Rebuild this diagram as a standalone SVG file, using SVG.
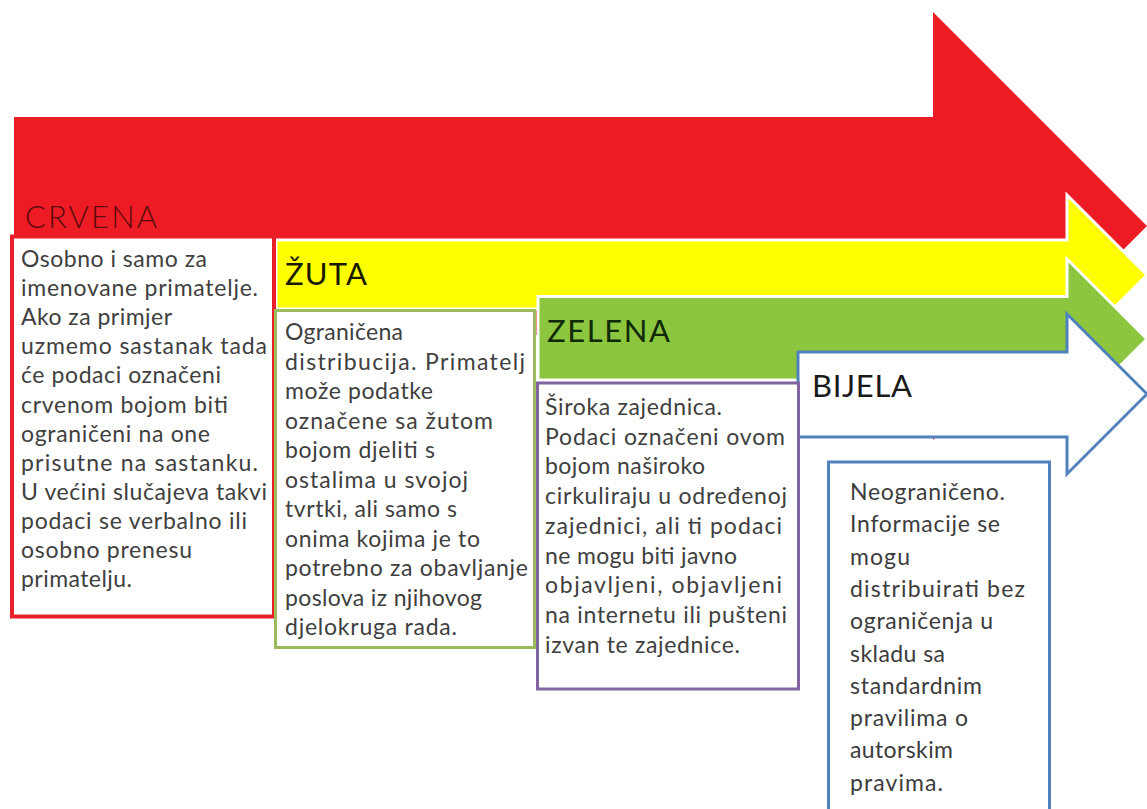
<svg xmlns="http://www.w3.org/2000/svg" width="1147" height="809" viewBox="0 0 1147 809">
<style>
.t{font-family:Lato,"Liberation Sans",sans-serif;font-size:23px;fill:#404040}
.tb{font-family:Lato,"Liberation Sans",sans-serif;font-size:23px;fill:#3c3c3c}
.lbl{font-family:Lato,"Liberation Sans",sans-serif;font-size:31px}
.box{fill:#ffffff;stroke-width:3}
</style>
<rect width="1147" height="809" fill="#ffffff"/>
<g id="crvena">
<polygon points="14,117 933,117 933,12 1147,226 933,440 933,335 14,335" fill="#ed1c24"/>
<text class="lbl" x="25" y="228" textLength="132" style="fill:#5a0a0a;font-weight:300">CRVENA</text>
</g>
<g id="zuta">
<polygon points="276,240 1067,240 1067,195 1147,275 1067,355 1067,309 276,309" fill="#ffff00" stroke="#ffffff" stroke-width="3"/>
<text class="lbl" x="285" y="285" textLength="82" style="fill:#1a1a00">ŽUTA</text>
</g>
<g id="zelena">
<polygon points="538,296.5 1067,296.5 1067,259 1147,339 1067,419 1067,380 538,380" fill="#8cc63f" stroke="#ffffff" stroke-width="3"/>
<text class="lbl" x="547" y="342" textLength="123" style="fill:#0f2a08">ZELENA</text>
</g>
<g id="bijela">
<polygon points="798,352 1067,352 1067,314 1147,394 1067,474 1067,437 798,437" fill="#ffffff" stroke="#4f81bd" stroke-width="3"/>
<text class="lbl" x="812" y="397" textLength="100" style="fill:#1a1a1a">BIJELA</text>
</g>
<g id="crvena-opis">
<rect class="box" x="12" y="236.5" width="262" height="380" stroke="#e8202a" style="stroke-width:4"/>
<text class="t" x="21" y="267" textLength="186">Osobno i samo za</text>
<text class="t" x="21" y="296" textLength="237">imenovane primatelje.</text>
<text class="t" x="21" y="325" textLength="151">Ako za primjer</text>
<text class="t" x="21" y="354" textLength="246">uzmemo sastanak tada</text>
<text class="t" x="21" y="383" textLength="200">će podaci označeni</text>
<text class="t" x="21" y="413" textLength="207">crvenom bojom biti</text>
<text class="t" x="21" y="442" textLength="189">ograničeni na one</text>
<text class="t" x="21" y="471" textLength="237">prisutne na sastanku.</text>
<text class="t" x="21" y="500" textLength="246">U većini slučajeva takvi</text>
<text class="t" x="21" y="529" textLength="226">podaci se verbalno ili</text>
<text class="t" x="21" y="558" textLength="171">osobno prenesu</text>
<text class="t" x="21" y="587" textLength="111">primatelju.</text>
</g>
<g id="zuta-opis">
<rect class="box" x="275.5" y="310.5" width="259" height="337" stroke="#9bbb59"/>
<text class="t" x="285" y="340" textLength="118">Ograničena</text>
<text class="t" x="285" y="369.5" textLength="240">distribucija. Primatelj</text>
<text class="t" x="285" y="399" textLength="148">može podatke</text>
<text class="t" x="285" y="428.5" textLength="208">označene sa žutom</text>
<text class="t" x="285" y="458" textLength="150">bojom djeliti s</text>
<text class="t" x="285" y="487.5" textLength="183">ostalima u svojoj</text>
<text class="t" x="285" y="517" textLength="172">tvrtki, ali samo s</text>
<text class="t" x="285" y="546.5" textLength="195">onima kojima je to</text>
<text class="t" x="285" y="576" textLength="243">potrebno za obavljanje</text>
<text class="t" x="285" y="605.5" textLength="197">poslova iz njihovog</text>
<text class="t" x="285" y="635" textLength="172">djelokruga rada.</text>
</g>
<g id="zelena-opis">
<rect class="box" x="537.5" y="383" width="261" height="306" stroke="#8064a2"/>
<text class="t" x="545" y="415" textLength="177">Široka zajednica.</text>
<text class="t" x="545" y="445" textLength="240">Podaci označeni ovom</text>
<text class="t" x="545" y="474" textLength="160">bojom naširoko</text>
<text class="t" x="545" y="504" textLength="242">cirkuliraju u određenoj</text>
<text class="t" x="545" y="534" textLength="237">zajednici, ali ti podaci</text>
<text class="t" x="545" y="564" textLength="192">ne mogu biti javno</text>
<text class="t" x="545" y="593" textLength="237">objavljeni, objavljeni</text>
<text class="t" x="545" y="623" textLength="242">na internetu ili pušteni</text>
<text class="t" x="545" y="653" textLength="195">izvan te zajednice.</text>
</g>
<g id="bijela-opis">
<rect class="box" x="828.5" y="462" width="221" height="360" stroke="#4f81bd"/>
<text class="tb" x="850" y="500" textLength="155">Neograničeno.</text>
<text class="tb" x="850" y="532" textLength="150">Informacije se</text>
<text class="tb" x="850" y="565" textLength="60">mogu</text>
<text class="tb" x="850" y="597" textLength="175">distribuirati bez</text>
<text class="tb" x="850" y="629" textLength="143">ograničenja u</text>
<text class="tb" x="850" y="662" textLength="95">skladu sa</text>
<text class="tb" x="850" y="694" textLength="132">standardnim</text>
<text class="tb" x="850" y="726" textLength="118">pravilima o</text>
<text class="tb" x="850" y="758" textLength="103">autorskim</text>
<text class="tb" x="850" y="791" textLength="93">pravima.</text>
</g>
<g id="connectors"></g>
</svg>
